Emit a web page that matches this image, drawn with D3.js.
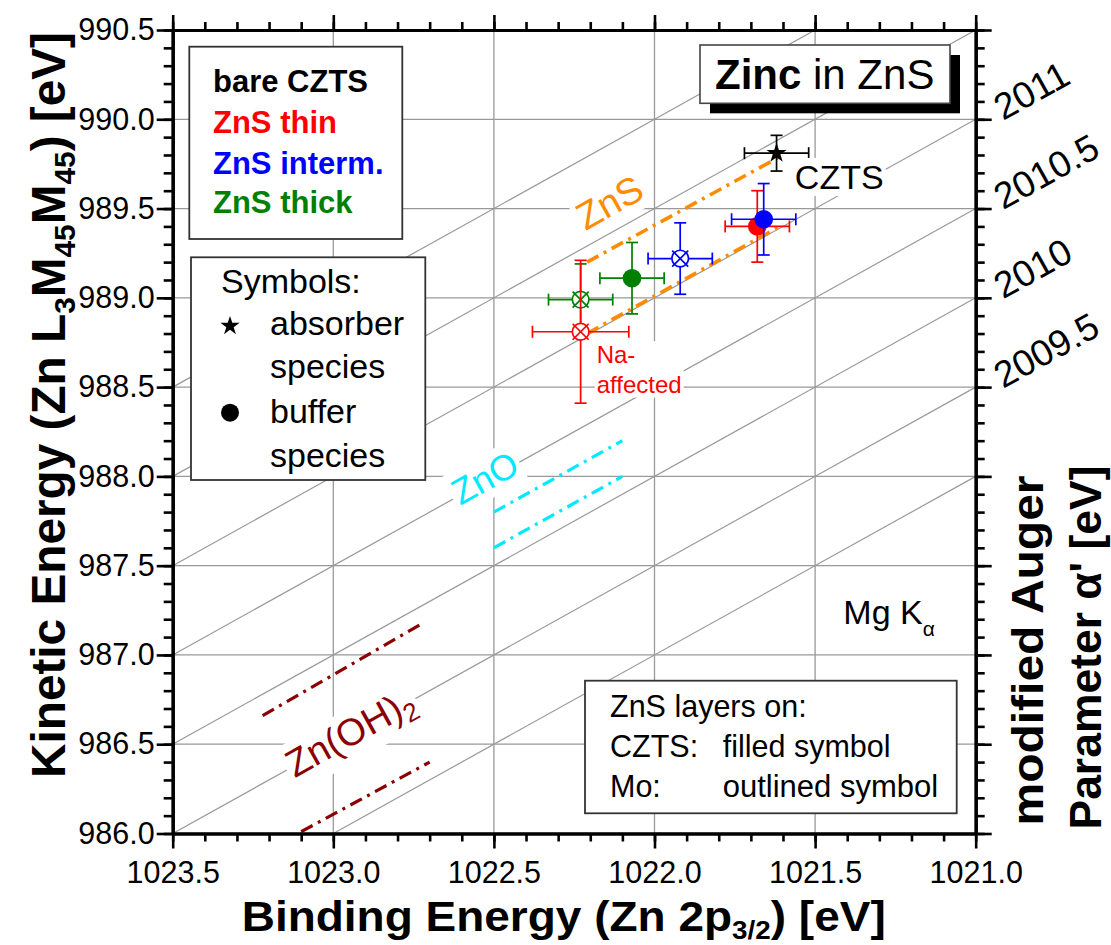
<!DOCTYPE html>
<html><head><meta charset="utf-8">
<script src="https://cdn.jsdelivr.net/npm/d3@7"></script>
<style>
body{margin:0;background:#fff}
svg{display:block}
text{font-family:"Liberation Sans",Arial,Helvetica,sans-serif}
</style>
</head><body>
<svg id="c" width="1111" height="945"></svg>
<script>
// ---------------- data ----------------
const xTicks = [1023.5, 1023.0, 1022.5, 1022.0, 1021.5, 1021.0];
const yTicks = [986.0, 986.5, 987.0, 987.5, 988.0, 988.5, 989.0, 989.5, 990.0, 990.5];
const alphaGrid = [2009.0, 2009.5, 2010.0, 2010.5, 2011.0, 2011.5, 2012.0];
const alphaLabelValues = [2011.0, 2010.5, 2010.0, 2009.5];
const alphaLabelText = ["2011", "2010.5", "2010", "2009.5"];

const legendSeries = ["bare CZTS", "ZnS thin", "ZnS interm.", "ZnS thick"];
const seriesOfPoint = ["bare CZTS", "ZnS thin", "ZnS interm.", "ZnS thick", "ZnS thin", "ZnS interm.", "ZnS thick"];
const substrateOfPoint = ["absorber", "CZTS", "CZTS", "CZTS", "Mo", "Mo", "Mo"];
const bindingEnergy = [1021.62, 1021.68, 1021.66, 1022.07, 1022.23, 1021.92, 1022.23];
const kineticEnergy = [989.81, 989.40, 989.44, 989.11, 988.81, 989.22, 988.99];
const bindingErr = [0.10, 0.10, 0.10, 0.10, 0.15, 0.10, 0.10];
const kineticErr = [0.10, 0.20, 0.20, 0.20, 0.40, 0.20, 0.20];

// reference ranges: [BE start, BE end], [KE start, KE end]
const refNames = ["ZnS", "ZnS", "ZnO", "ZnO", "Zn(OH)2", "Zn(OH)2"];
const refBE = [[1022.21, 1021.60], [1022.21, 1021.60], [1022.50, 1022.10], [1022.50, 1022.10], [1023.22, 1022.72], [1023.10, 1022.70]];
const refKE = [[989.20, 989.80], [988.80, 989.41], [987.80, 988.20], [987.60, 988.00], [986.66, 987.18], [986.01, 986.40]];

// ---------------- styles ----------------
const seriesColor = {"bare CZTS": "#000000", "ZnS thin": "#ff0000", "ZnS interm.": "#0000ff", "ZnS thick": "#008000"};
const refColor = {"ZnS": "#ff8c00", "ZnO": "#00eaff", "Zn(OH)2": "#8b0000"};
const drawOrder = [6, 4, 3, 5, 1, 2, 0];
const FONT = '"Liberation Sans",Arial,Helvetica,sans-serif';

// ---------------- setup ----------------
const svg = d3.select("#c");
const x = d3.scaleLinear().domain([1023.5, 1021.0]).range([172.7, 975.7]);
const y = d3.scaleLinear().domain([986.0, 990.5]).range([833.5, 30]);
const [X0, X1] = x.range();
const [Y0, Y1] = y.range();
const angle = -Math.atan((y(988) - y(989)) / (x(1021.5) - x(1022.5))) * 180 / Math.PI; // about -29

svg.append("defs").append("clipPath").attr("id", "plotclip")
  .append("rect").attr("x", X0).attr("y", Y1).attr("width", X1 - X0).attr("height", Y0 - Y1);

const grid = svg.append("g").attr("clip-path", "url(#plotclip)");
grid.selectAll("line.v").data(xTicks).join("line")
  .attr("x1", d => x(d)).attr("x2", d => x(d)).attr("y1", Y1).attr("y2", Y0)
  .attr("stroke", "#999").attr("stroke-width", 1.3);
grid.selectAll("line.h").data(yTicks).join("line").attr("class", "h")
  .attr("x1", X0).attr("x2", X1).attr("y1", d => y(d)).attr("y2", d => y(d))
  .attr("stroke", "#999").attr("stroke-width", 1.3);
grid.selectAll("line.d").data(alphaGrid).join("line").attr("class", "d")
  .each(function(a) {
    const lo = Math.max(1021.0, a - 990.5), hi = Math.min(1023.5, a - 986.0);
    d3.select(this).attr("x1", x(hi)).attr("y1", y(a - hi)).attr("x2", x(lo)).attr("y2", y(a - lo));
  })
  .attr("stroke", "#999").attr("stroke-width", 1.2);

// ---------------- labels with white knock-out ----------------
function knockLabel(px, py, rot, build, pad) {
  const g = svg.append("g").attr("transform", `translate(${px},${py}) rotate(${rot})`);
  const r = g.append("rect").attr("fill", "#fff");
  const t = g.append("text");
  build(t);
  const b = t.node().getBBox();
  const p = pad == null ? 3 : pad;
  r.attr("x", b.x - p).attr("y", b.y - p + 2).attr("width", b.width + 2 * p).attr("height", b.height + 2 * p - 4);
  return g;
}

// ---------------- reference ranges ----------------
const refG = svg.append("g");
refNames.forEach((n, i) => {
  refG.append("line")
    .attr("x1", x(refBE[i][0])).attr("y1", y(refKE[i][0]))
    .attr("x2", x(refBE[i][1])).attr("y2", y(refKE[i][1]))
    .attr("stroke", refColor[n]).attr("stroke-width", n === "ZnS" ? 3.6 : 3.2)
    .attr("stroke-dasharray", "13,6,3,6");
});

knockLabel(x(1022.215), y(989.375), angle, t => t.text("ZnS").attr("font-size", 38).attr("fill", refColor["ZnS"]));
knockLabel(x(1022.605), y(987.835), angle, t => t.text("ZnO").attr("font-size", 36).attr("fill", refColor["ZnO"]));
knockLabel(x(1023.12), y(986.31), angle, t => {
  t.attr("font-size", 38).attr("fill", refColor["Zn(OH)2"]);
  t.append("tspan").text("Zn(OH)");
  t.append("tspan").text("2").attr("font-size", 26).attr("dy", 8);
});

// ---------------- points ----------------
const ptG = svg.append("g");
const cap = 6;
drawOrder.forEach(i => {
  const c = seriesColor[seriesOfPoint[i]];
  const cx = x(bindingEnergy[i]), cy = y(kineticEnergy[i]);
  const xl = x(bindingEnergy[i] + bindingErr[i]), xr = x(bindingEnergy[i] - bindingErr[i]);
  const yt = y(kineticEnergy[i] + kineticErr[i]), yb = y(kineticEnergy[i] - kineticErr[i]);
  const g = ptG.append("g").attr("stroke", c).attr("stroke-width", 1.7).attr("fill", "none");
  g.append("line").attr("x1", xl).attr("x2", xr).attr("y1", cy).attr("y2", cy);
  g.append("line").attr("x1", cx).attr("x2", cx).attr("y1", yt).attr("y2", yb);
  g.append("line").attr("x1", xl).attr("x2", xl).attr("y1", cy - cap).attr("y2", cy + cap);
  g.append("line").attr("x1", xr).attr("x2", xr).attr("y1", cy - cap).attr("y2", cy + cap);
  g.append("line").attr("x1", cx - cap).attr("x2", cx + cap).attr("y1", yt).attr("y2", yt);
  g.append("line").attr("x1", cx - cap).attr("x2", cx + cap).attr("y1", yb).attr("y2", yb);
  const s = substrateOfPoint[i];
  if (s === "absorber") {
    g.append("path").attr("d", d3.symbol(d3.symbolStar, 125)())
      .attr("transform", `translate(${cx},${cy})`).attr("fill", c).attr("stroke", "none");
  } else if (s === "CZTS") {
    g.append("circle").attr("cx", cx).attr("cy", cy).attr("r", 9.3).attr("fill", c).attr("stroke", "none");
  } else {
    g.append("circle").attr("cx", cx).attr("cy", cy).attr("r", 8.3).attr("fill", "#fff");
    g.append("line").attr("x1", cx - 8).attr("y1", cy - 8).attr("x2", cx + 8).attr("y2", cy + 8);
    g.append("line").attr("x1", cx - 8).attr("y1", cy + 8).attr("x2", cx + 8).attr("y2", cy - 8);
  }
});

// point annotations
knockLabel(x(1021.563), y(989.61), 0, t => t.text("CZTS").attr("font-size", 34).attr("fill", "#000"), 2);
knockLabel(x(1022.18), y(988.634), 0, t => {
  t.attr("font-size", 24).attr("fill", "#ff0000");
  t.append("tspan").attr("x", 0).text("Na-");
  t.append("tspan").attr("x", 0).attr("dy", 29.4).text("affected");
}, 2);
knockLabel(x(1021.412), y(987.174), 0, t => {
  t.attr("font-size", 34).attr("fill", "#000");
  t.append("tspan").text("Mg K");
  t.append("tspan").text("α").attr("font-size", 21).attr("dy", 12);
}, 2);

// ---------------- axes ----------------
function styleAxis(g) {
  g.select(".domain").attr("stroke", "#000").attr("stroke-width", 3.2);
  g.selectAll(".tick line").attr("stroke", "#000").attr("stroke-width", 2.6);
  g.selectAll(".tick text").attr("font-family", FONT).attr("font-size", 30.5).attr("fill", "#000");
}
const minorX = x.ticks(25), minorY = y.ticks(45);
svg.append("g").attr("transform", `translate(0,${Y0})`)
  .call(d3.axisBottom(x).tickValues(minorX).tickSize(8).tickSizeOuter(0).tickFormat("")).call(styleAxis);
svg.append("g").attr("transform", `translate(0,${Y0})`)
  .call(d3.axisBottom(x).tickValues(xTicks).tickSize(15).tickSizeOuter(0).tickPadding(13).tickFormat(d3.format(".1f"))).call(styleAxis);
svg.append("g").attr("transform", `translate(0,${Y1})`)
  .call(d3.axisTop(x).tickValues(minorX).tickSize(8).tickSizeOuter(0).tickFormat("")).call(styleAxis);
svg.append("g").attr("transform", `translate(0,${Y1})`)
  .call(d3.axisTop(x).tickValues(xTicks).tickSize(15).tickSizeOuter(0).tickFormat("")).call(styleAxis);
svg.append("g").attr("transform", `translate(${X0},0)`)
  .call(d3.axisLeft(y).tickValues(minorY).tickSize(9).tickSizeOuter(0).tickFormat("")).call(styleAxis);
svg.append("g").attr("transform", `translate(${X0},0)`)
  .call(d3.axisLeft(y).tickValues(yTicks).tickSize(16).tickSizeOuter(0).tickPadding(2).tickFormat(d3.format(".1f"))).call(styleAxis);
svg.append("g").attr("transform", `translate(${X1},0)`)
  .call(d3.axisRight(y).tickValues(minorY).tickSize(9).tickSizeOuter(0).tickFormat("")).call(styleAxis);
svg.append("g").attr("transform", `translate(${X1},0)`)
  .call(d3.axisRight(y).tickValues(yTicks).tickSize(16).tickSizeOuter(0).tickFormat("")).call(styleAxis);

// alpha' labels on the right, along the diagonal extensions
alphaLabelValues.forEach((a, i) => {
  const ke = a - 1021.0;
  const ax = X1, ay = y(ke);
  const rad = angle * Math.PI / 180;
  const d = 23;
  const px = ax + d * Math.cos(rad), py = ay + d * Math.sin(rad);
  svg.append("text").attr("transform", `translate(${px},${py}) rotate(${angle})`)
    .attr("dy", "0.4em").attr("font-size", 37).attr("fill", "#000").text(alphaLabelText[i]);
});

// ---------------- axis titles ----------------
const xt = svg.append("text").attr("x", 241.7).attr("y", 931).attr("font-size", 43).attr("font-weight", "bold")
  .attr("textLength", 644).attr("lengthAdjust", "spacingAndGlyphs");
xt.append("tspan").text("Binding Energy (Zn 2p");
xt.append("tspan").text("3/2").attr("font-size", 26).attr("dy", 8);
xt.append("tspan").text(") [eV]").attr("dy", -8);

const yt = svg.append("text").attr("transform", "translate(65,778) rotate(-90)").attr("font-size", 48).attr("font-weight", "bold")
  .attr("textLength", 746).attr("lengthAdjust", "spacingAndGlyphs");
yt.append("tspan").text("Kinetic Energy (Zn L");
yt.append("tspan").text("3").attr("font-size", 30).attr("dy", 10);
yt.append("tspan").text("M").attr("dy", -10);
yt.append("tspan").text("45").attr("font-size", 30).attr("dy", 10);
yt.append("tspan").text("M").attr("dy", -10);
yt.append("tspan").text("45").attr("font-size", 30).attr("dy", 10);
yt.append("tspan").text(") [eV]").attr("dy", -10);

svg.append("text").attr("transform", "translate(1043,650.5) rotate(-90)").attr("text-anchor", "middle")
  .attr("font-size", 45).attr("font-weight", "bold").attr("textLength", 350).attr("lengthAdjust", "spacingAndGlyphs")
  .text("modified Auger");
svg.append("text").attr("transform", "translate(1101,647.5) rotate(-90)").attr("text-anchor", "middle")
  .attr("font-size", 45).attr("font-weight", "bold").attr("textLength", 364).attr("lengthAdjust", "spacingAndGlyphs")
  .text("Parameter α' [eV]");

// ---------------- legends ----------------
const boxStroke = "#333";
// series legend
svg.append("rect").attr("x", 189.3).attr("y", 46.7).attr("width", 213).attr("height", 192.3)
  .attr("fill", "#fff").attr("stroke", boxStroke).attr("stroke-width", 1.8);
const legY = [91.7, 133.3, 174, 213.3];
legendSeries.forEach((n, i) => {
  svg.append("text").attr("x", 213).attr("y", legY[i]).attr("font-size", 31).attr("font-weight", "bold")
    .attr("fill", seriesColor[n]).text(n);
});

// symbols legend
svg.append("rect").attr("x", 191).attr("y", 257.3).attr("width", 234.3).attr("height", 222.7)
  .attr("fill", "#fff").attr("stroke", boxStroke).attr("stroke-width", 1.8);
svg.append("text").attr("x", 221).attr("y", 292.7).attr("font-size", 34).text("Symbols:");
svg.append("path").attr("d", d3.symbol(d3.symbolStar, 115)()).attr("transform", "translate(230,326)").attr("fill", "#000");
svg.append("text").attr("x", 270).attr("y", 335).attr("font-size", 34).text("absorber");
svg.append("text").attr("x", 270).attr("y", 378).attr("font-size", 34).text("species");
svg.append("circle").attr("cx", 230).attr("cy", 412.7).attr("r", 9).attr("fill", "#000");
svg.append("text").attr("x", 270).attr("y", 423).attr("font-size", 34).text("buffer");
svg.append("text").attr("x", 270).attr("y", 466.7).attr("font-size", 34).text("species");

// substrate legend
svg.append("rect").attr("x", 585).attr("y", 680.7).attr("width", 371.7).attr("height", 132.6)
  .attr("fill", "#fff").attr("stroke", boxStroke).attr("stroke-width", 1.8);
svg.append("text").attr("x", 610).attr("y", 717.3).attr("font-size", 30.5).text("ZnS layers on:");
svg.append("text").attr("x", 610).attr("y", 757.3).attr("font-size", 30.5).text("CZTS:");
svg.append("text").attr("x", 722.7).attr("y", 757.3).attr("font-size", 30.5).text("filled symbol");
svg.append("text").attr("x", 610).attr("y", 796.7).attr("font-size", 30.5).text("Mo:");
svg.append("text").attr("x", 722.7).attr("y", 796.7).attr("font-size", 31).text("outlined symbol");

// title box with shadow
svg.append("rect").attr("x", 710).attr("y", 55).attr("width", 250).attr("height", 58.3).attr("fill", "#000");
svg.append("rect").attr("x", 700).attr("y", 45).attr("width", 250).attr("height", 58.3)
  .attr("fill", "#fff").attr("stroke", "#444").attr("stroke-width", 1.6);
const tt = svg.append("text").attr("x", 715).attr("y", 89).attr("font-size", 42).attr("fill", "#000");
tt.append("tspan").attr("font-weight", "bold").text("Zinc");
tt.append("tspan").text(" in ZnS");
</script>
</body></html>
